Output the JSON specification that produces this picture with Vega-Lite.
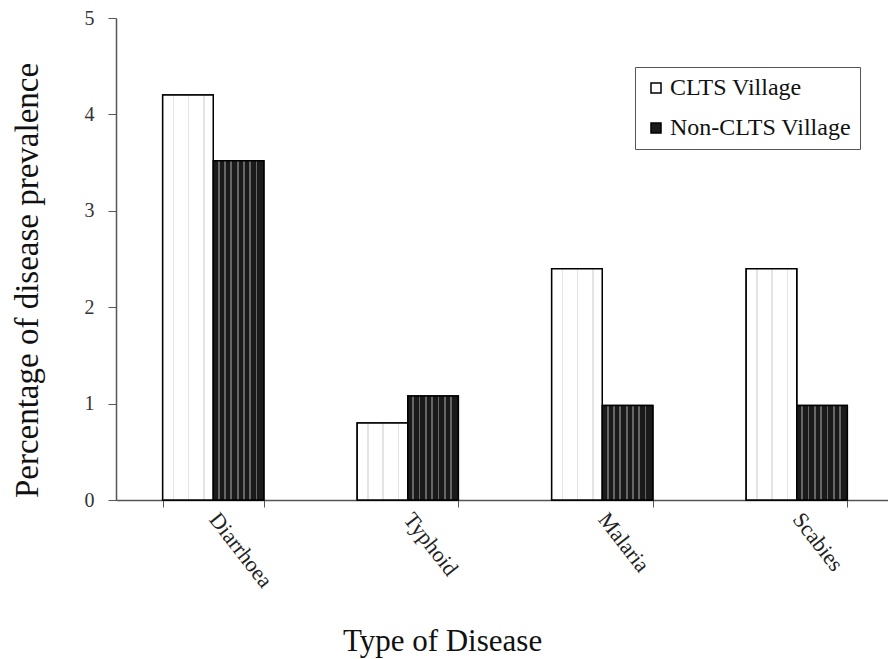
{
  "$schema": "https://vega.github.io/schema/vega-lite/v6.json",
  "autosize": "none",
  "width": 778,
  "height": 482,
  "padding": {"left": 116, "top": 18, "right": 0, "bottom": 159},
  "background": "white",
  "config": {
    "view": {"stroke": null},
    "font": "Liberation Serif",
    "legend": {"labelFont": "Liberation Serif"},
    "axis": {"labelFont": "Liberation Serif", "titleFont": "Liberation Serif"}
  },
  "data": {
    "values": [
      {"disease": "Diarrhoea", "group": "CLTS Village", "value": 4.2},
      {"disease": "Diarrhoea", "group": "Non-CLTS Village", "value": 3.52},
      {"disease": "Typhoid", "group": "CLTS Village", "value": 0.8},
      {"disease": "Typhoid", "group": "Non-CLTS Village", "value": 1.08},
      {"disease": "Malaria", "group": "CLTS Village", "value": 2.4},
      {"disease": "Malaria", "group": "Non-CLTS Village", "value": 0.98},
      {"disease": "Scabies", "group": "CLTS Village", "value": 2.4},
      {"disease": "Scabies", "group": "Non-CLTS Village", "value": 0.98}
    ]
  },
  "encoding": {
    "x": {
      "field": "disease",
      "type": "nominal",
      "sort": ["Diarrhoea", "Typhoid", "Malaria", "Scabies"],
      "scale": {"paddingInner": 0.48, "paddingOuter": 0.24},
      "axis": {
        "title": "Type of Disease",
        "titleFontSize": 31,
        "titleFontWeight": "normal",
        "titleColor": "#111",
        "titleX": 326,
        "titleY": 150,
        "titleAlign": "center",
        "titleBaseline": "alphabetic",
        "labelAngle": 52,
        "labelAlign": "left",
        "labelBaseline": "middle",
        "labelFontSize": 22,
        "labelColor": "#222",
        "labelPadding": 8,
        "tickBand": "extent",
        "tickSize": 7,
        "tickColor": "#555",
        "domainColor": "#555",
        "domainWidth": 1.5,
        "grid": false
      }
    },
    "xOffset": {"field": "group", "type": "nominal", "sort": ["CLTS Village", "Non-CLTS Village"]},
    "y": {
      "field": "value",
      "type": "quantitative",
      "scale": {"domain": [0, 5], "nice": false},
      "axis": {
        "title": "Percentage of disease prevalence",
        "titleFontSize": 33,
        "titleFontWeight": "normal",
        "titleColor": "#111",
        "titleX": -89,
        "titleY": 262,
        "titleAlign": "center",
        "titleBaseline": "middle",
        "titleAngle": -90,
        "values": [0, 1, 2, 3, 4, 5],
        "labelFont": "Times New Roman",
        "labelFontSize": 20,
        "labelColor": "#333",
        "labelPadding": 14,
        "tickSize": 8,
        "tickColor": "#555",
        "domainColor": "#555",
        "domainWidth": 1.5,
        "grid": false
      }
    }
  },
  "layer": [
    {
      "mark": {"type": "bar", "stroke": "black", "strokeWidth": 1.5},
      "encoding": {
        "fill": {
          "field": "group",
          "type": "nominal",
          "scale": {"domain": ["CLTS Village", "Non-CLTS Village"], "range": ["white", "#1a1a1a"]},
          "legend": {
            "title": null,
            "orient": "none",
            "legendX": 519,
            "legendY": 49,
            "direction": "vertical",
            "symbolType": "square",
            "symbolSize": 100,
            "symbolStrokeColor": "black",
            "symbolStrokeWidth": 1.5,
            "labelFont": "Times New Roman",
            "labelFontSize": 24,
            "labelLimit": 0,
            "labelColor": "#111",
            "labelOffset": 2,
            "rowPadding": 16,
            "padding": 9,
            "strokeColor": "#555",
            "fillColor": "white"
          }
        }
      }
    },
    {
      "mark": {"type": "bar", "stroke": "black", "strokeWidth": 1.5},
      "encoding": {
        "fill": {
          "condition": {
            "test": "datum.group === 'Non-CLTS Village'",
            "value": {
              "gradient": "linear", "x1": 0, "x2": 1, "y1": 0, "y2": 0,
              "stops": [
                {"offset": 0.0, "color": "#1a1a1a"}, {"offset": 0.09, "color": "#1a1a1a"}, {"offset": 0.09, "color": "#666"}, {"offset": 0.125, "color": "#666"},
                {"offset": 0.125, "color": "#1a1a1a"}, {"offset": 0.215, "color": "#1a1a1a"}, {"offset": 0.215, "color": "#666"}, {"offset": 0.25, "color": "#666"},
                {"offset": 0.25, "color": "#1a1a1a"}, {"offset": 0.34, "color": "#1a1a1a"}, {"offset": 0.34, "color": "#666"}, {"offset": 0.375, "color": "#666"},
                {"offset": 0.375, "color": "#1a1a1a"}, {"offset": 0.465, "color": "#1a1a1a"}, {"offset": 0.465, "color": "#666"}, {"offset": 0.5, "color": "#666"},
                {"offset": 0.5, "color": "#1a1a1a"}, {"offset": 0.59, "color": "#1a1a1a"}, {"offset": 0.59, "color": "#666"}, {"offset": 0.625, "color": "#666"},
                {"offset": 0.625, "color": "#1a1a1a"}, {"offset": 0.715, "color": "#1a1a1a"}, {"offset": 0.715, "color": "#666"}, {"offset": 0.75, "color": "#666"},
                {"offset": 0.75, "color": "#1a1a1a"}, {"offset": 0.84, "color": "#1a1a1a"}, {"offset": 0.84, "color": "#666"}, {"offset": 0.875, "color": "#666"},
                {"offset": 0.875, "color": "#1a1a1a"}, {"offset": 1.0, "color": "#1a1a1a"}
              ]
            }
          },
          "value": {
            "gradient": "linear", "x1": 0, "x2": 1, "y1": 0, "y2": 0,
            "stops": [
              {"offset": 0.0, "color": "#ffffff"}, {"offset": 0.2, "color": "#ffffff"}, {"offset": 0.2, "color": "#e4e4e4"}, {"offset": 0.23, "color": "#e4e4e4"},
              {"offset": 0.23, "color": "#ffffff"}, {"offset": 0.5, "color": "#ffffff"}, {"offset": 0.5, "color": "#e4e4e4"}, {"offset": 0.53, "color": "#e4e4e4"},
              {"offset": 0.53, "color": "#ffffff"}, {"offset": 0.8, "color": "#ffffff"}, {"offset": 0.8, "color": "#e4e4e4"}, {"offset": 0.83, "color": "#e4e4e4"},
              {"offset": 0.83, "color": "#ffffff"}, {"offset": 1.0, "color": "#ffffff"}
            ]
          }
        }
      }
    }
  ]
}
